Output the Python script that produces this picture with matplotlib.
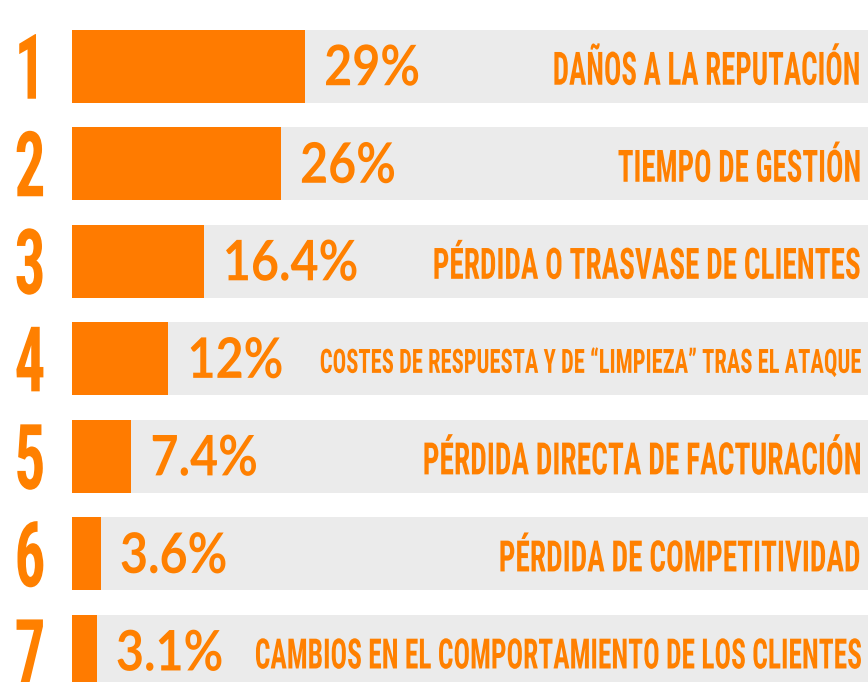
import matplotlib
matplotlib.use("Agg")
import matplotlib.pyplot as plt
import matplotlib.patheffects as patheffects
from matplotlib import font_manager
from matplotlib.font_manager import FontProperties
from matplotlib.text import Text
from matplotlib.transforms import Affine2D, Bbox, offset_copy
import numpy as np

ranks = ["1", "2", "3", "4", "5", "6", "7"]
values = [29, 26, 16.4, 12, 7.4, 3.6, 3.1]
labels = [
    "DAÑOS A LA REPUTACIÓN",
    "TIEMPO DE GESTIÓN",
    "PÉRDIDA O TRASVASE DE CLIENTES",
    "COSTES DE RESPUESTA Y DE “LIMPIEZA” TRAS EL ATAQUE",
    "PÉRDIDA DIRECTA DE FACTURACIÓN",
    "PÉRDIDA DE COMPETITIVIDAD",
    "CAMBIOS EN EL COMPORTAMIENTO DE LOS CLIENTES",
]
total = 100

ORANGE = "#ff7b00"
TEXT_ORANGE = "#ff8000"
GREY = "#ebebeb"
DPI = 100


def weight_of(f):
    w = f.weight
    return font_manager.weight_dict.get(w, 400) if isinstance(w, str) else w


def pick_condensed():
    # look for an upright narrow bold face, else plain DejaVu Sans Bold
    best, best_score = None, -1
    for f in font_manager.fontManager.ttflist:
        if f.style != "normal":
            continue
        narrowish = ("Narrow" in f.name or "Condensed" in f.name
                     or f.stretch in ("condensed", "semi-condensed", "extra-condensed"))
        w = weight_of(f)
        if narrowish and w >= 600:
            score = 10 - abs(w - 700) / 100 + (2 if "Roboto" in f.name else 0)
            if score > best_score:
                best, best_score = f.fname, score
    if best:
        return FontProperties(fname=best)
    return FontProperties(family="DejaVu Sans", weight="bold")


def pt(cap_px, ratio=0.716):
    # font size in points from a cap height in pixels
    return cap_px / ratio * 72 / DPI


class Squeeze(patheffects.AbstractPathEffect):
    def __init__(self, owner):
        super().__init__()
        self.owner = owner

    def draw_path(self, renderer, gc, tpath, affine, rgbFace=None):
        x0 = self.owner.anchor_x()
        sq = Affine2D().translate(-x0, 0).scale(self.owner.sx, 1).translate(x0, 0)
        renderer.draw_path(gc, tpath, affine + sq, rgbFace)


class NarrowText(Text):
    # text drawn narrower around its anchor, extent reported the same way
    def __init__(self, *args, sx=1.0, **kwargs):
        super().__init__(*args, **kwargs)
        self.sx = sx
        self.set_path_effects([Squeeze(self)])

    def anchor_x(self):
        return self.get_transform().transform(self.get_unitless_position())[0]

    def get_window_extent(self, renderer=None, dpi=None):
        bb = super().get_window_extent(renderer, dpi)
        x0 = self.anchor_x()
        return Bbox([[x0 + (bb.x0 - x0) * self.sx, bb.y0],
                     [x0 + (bb.x1 - x0) * self.sx, bb.y1]])


cond = pick_condensed()
names = {f.name for f in font_manager.fontManager.ttflist}
pct_prop = FontProperties(family="Lato" if "Lato" in names else "DejaVu Sans", weight="bold")

fig = plt.figure(figsize=(8.68, 6.82), dpi=DPI)
renderer = fig.canvas.get_renderer()


def text_width(s, prop, size):
    p = prop.copy()
    p.set_size(size)
    return renderer.get_text_width_height_descent(s, p, ismath=False)[0]


ax = fig.add_axes([72 / 868, 0, 796 / 868, 1])
ax.set_xlim(0, 99)
ax.set_ylim(6.313, -0.679)
ax.axis("off")

y = np.arange(len(values))
ax.barh(y, [total] * len(values), height=0.748, color=GREY, linewidth=0)
ax.barh(y, values, height=0.748, color=ORANGE, linewidth=0)

label_caps = [33, 32, 31, 24, 32, 31, 30]
label_px = [308, 243, 428, 541, 438, 362, 606]   # widths of the poster lettering
rank_cap = 65
pct_cap = 40

# narrowing factors so the faces come out as tight as the poster lettering
rank_sx = min(31 / text_width("2", cond, pt(rank_cap)), 1.0)
pct_sx = 96 / text_width("29%", pct_prop, pt(pct_cap))


def add_text(x, y0, s, sx, prop, size, dx, dy, ha):
    p = prop.copy()
    p.set_size(size)
    tr = offset_copy(ax.transData, fig=fig, x=dx, y=dy, units="dots")
    t = NarrowText(x, y0, s, sx=sx, fontproperties=p, color=TEXT_ORANGE,
                   ha=ha, va="baseline", transform=tr, clip_on=False)
    ax.add_artist(t)
    return t


for i, (r, v, lab) in enumerate(zip(ranks, values, labels)):
    # rank number, left of the bars
    add_text(0, i, r, rank_sx, cond, pt(rank_cap), -42, -rank_cap / 2, "center")
    # percentage right after the bar
    add_text(v, i, f"{v:g}%", pct_sx, pct_prop, pt(pct_cap), 19, -pct_cap / 2 + 1, "left")
    # category label, right aligned
    cap = label_caps[i]
    sx = label_px[i] / text_width(lab, cond, pt(cap))
    add_text(98.1, i, lab, sx, cond, pt(cap), 0, -cap / 2 - 2, "right")

fig.savefig("out.png", dpi=DPI)
